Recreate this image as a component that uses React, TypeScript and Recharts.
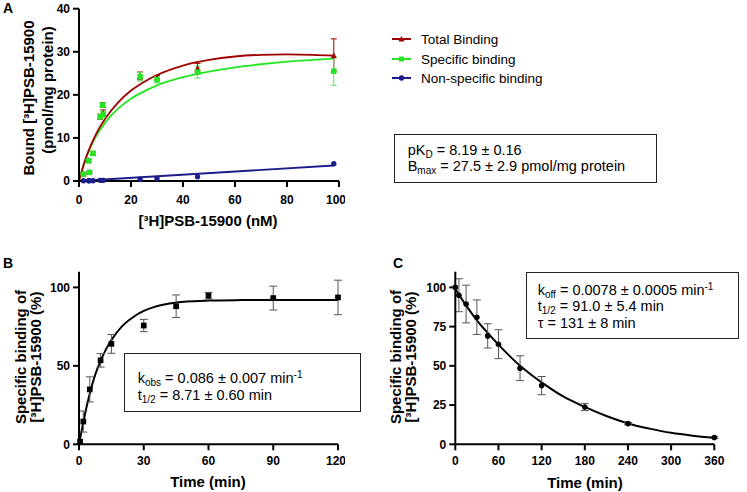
import React from "react";
import { ComposedChart, Line, Scatter, XAxis, YAxis, ErrorBar } from "recharts";

const FONT = '"Liberation Sans", Arial, sans-serif';

// Panel A: saturation
const satX = [1.7, 3.7, 4.0, 5.4, 8.1, 9.1, 9.3, 23.5, 30, 45.6, 98];
const totalY = [1.7, 4.8, 2.1, 6.5, 15.0, 17.7, 15.8, 24.4, 24.0, 26.3, 29.2];
const totalErr = [0.2, 0.3, 0.2, 0.3, 0.5, 0.5, 0.7, 0.9, 0.5, 1.0, 3.8];
const specY = [1.6, 4.7, 2.0, 6.4, 14.9, 17.6, 15.5, 24.2, 23.5, 25.3, 25.5];
const specErr = [0.2, 0.3, 0.2, 0.3, 0.5, 0.5, 0.7, 1.0, 0.7, 1.4, 3.3];
const nsY = [0.05, 0.05, 0.05, 0.05, 0.15, 0.15, 0.15, 0.4, 0.6, 1.0, 4.0];

const fitAx = [0, 2, 4, 6, 8, 10, 15, 20, 25, 30, 40, 50, 60, 70, 80, 90, 98];
const totalFit = [0, 4.2, 7.5, 10.2, 12.5, 14.4, 18.2, 21.0, 23.0, 24.6, 26.8, 28.1, 28.9, 29.3, 29.4, 29.3, 29.1];
const specFit = [0, 4.1, 7.2, 9.8, 11.8, 13.5, 16.8, 19.1, 20.8, 22.2, 24.1, 25.4, 26.4, 27.1, 27.7, 28.1, 28.4];
const nsFitX = [0, 98];
const nsFit = [0, 3.6];

// Panel B: association
const bX = [0.5, 2, 5, 10, 15, 30, 45, 60, 90, 120];
const bY = [1.7, 14.5, 35, 53.5, 64, 75.7, 88, 94.7, 93.2, 93.6];
const bErr = [0, 6.7, 8, 4.3, 6, 3.9, 7.2, 2.1, 7.6, 11];
const bFitX = [0, 2.5, 5, 7.5, 10, 12.5, 15, 20, 25, 30, 35, 40, 45, 50, 60, 75, 90, 105, 120];
const bFit = [0, 17.4, 32.3, 44.3, 53.2, 60.5, 66.4, 75.3, 81.0, 85.0, 87.6, 89.3, 90.3, 91.0, 91.6, 91.9, 92.0, 92.0, 92.0];

// Panel C: dissociation
const cX = [0, 5, 15, 30, 45, 60, 90, 120, 180, 240, 360];
const cY = [100, 95, 89.4, 81, 69.1, 63.8, 48.5, 37.4, 23.8, 13.2, 4.3];
const cErr = [0, 10.5, 12, 11, 7.7, 9.2, 7.9, 5.8, 2.3, 0.8, 0.5];
const cFitX = [0, 15, 30, 45, 60, 75, 90, 105, 120, 150, 180, 210, 240, 270, 300, 330, 360];
const cFit = [99, 88.5, 79, 71, 63.5, 56.5, 50, 44.5, 39.5, 30.5, 23.8, 18, 13.3, 10, 7.3, 5.5, 4.2];

const ticksA_X = [0, 20, 40, 60, 80, 100];
const ticksA_Y = [0, 10, 20, 30, 40];
const ticksB_X = [0, 30, 60, 90, 120];
const ticksB_Y = [0, 50, 100];
const ticksC_X = [0, 60, 120, 180, 240, 300, 360];
const ticksC_Y = [0, 25, 50, 75, 100];

const RED = "#a00000";
const GREEN = "#22e622";
const BLUE = "#1c1c8c";

const zip = (xs: number[], ys: number[], es?: number[]) =>
  xs.map((x, i) => ({ x, y: ys[i], err: es ? es[i] : 0 }));

const axisLine = { stroke: "#000", strokeWidth: 2 };
const tick = { fontSize: 12, fontWeight: 700, fill: "#000", fontFamily: FONT };

const square = (s: number, fill: string) => (p: any) =>
  <rect x={p.cx - s / 2} y={p.cy - s / 2} width={s} height={s} fill={fill} />;
const circle = (r: number, fill: string) => (p: any) =>
  <circle cx={p.cx} cy={p.cy} r={r} fill={fill} />;
const triangle = (s: number, fill: string) => (p: any) =>
  <polygon
    points={`${p.cx},${p.cy - s / 2} ${p.cx - s / 2},${p.cy + s / 2} ${p.cx + s / 2},${p.cy + s / 2}`}
    fill={fill}
  />;

function Title({ x, y, text, rotate = false }: { x: number; y: number; text: string; rotate?: boolean }) {
  return (
    <div
      style={{
        position: "absolute",
        left: x,
        top: y,
        transform: `translate(-50%,-50%)${rotate ? " rotate(-90deg)" : ""}`,
        whiteSpace: "nowrap",
        fontSize: 15,
        fontWeight: 700,
        lineHeight: 1,
      }}
    >
      {text}
    </div>
  );
}

const Sub = ({ children }: { children: React.ReactNode }) => (
  <span style={{ fontSize: 10, verticalAlign: "-3px", lineHeight: 0 }}>{children}</span>
);
const Sup = ({ children }: { children: React.ReactNode }) => (
  <span style={{ fontSize: 10, verticalAlign: "5px", lineHeight: 0 }}>{children}</span>
);

function Box({ left, top, width, height, padTop, padLeft, children }: any) {
  return (
    <div
      style={{
        position: "absolute",
        left,
        top,
        width,
        height,
        boxSizing: "border-box",
        border: "1px solid #222",
        paddingTop: padTop,
        paddingLeft: padLeft,
        fontSize: 14.5,
        lineHeight: "16.7px",
        whiteSpace: "nowrap",
        background: "#fff",
      }}
    >
      {children}
    </div>
  );
}

function LegendRow({ y, color, marker, label }: { y: number; color: string; marker: string; label: string }) {
  return (
    <div style={{ position: "absolute", left: 392, top: y - 10, height: 20, display: "flex", alignItems: "center" }}>
      <svg width={19} height={10}>
        <line x1={0} y1={5} x2={19} y2={5} stroke={color} strokeWidth={2} />
        {marker === "tri" && <polygon points="9.5,2 6.5,7.5 12.5,7.5" fill={color} />}
        {marker === "sq" && <rect x={7} y={2.5} width={5} height={5} fill={color} />}
        {marker === "circ" && <circle cx={9.5} cy={5} r={2.7} fill={color} />}
      </svg>
      <span style={{ marginLeft: 10, fontSize: 13.5 }}>{label}</span>
    </div>
  );
}

const Letter = ({ x, y, t }: { x: number; y: number; t: string }) => (
  <div style={{ position: "absolute", left: x, top: y, fontSize: 14, fontWeight: 700, lineHeight: "14px" }}>{t}</div>
);

export default function App() {
  return (
    <div style={{ position: "relative", width: 747, height: 492, background: "#fff", fontFamily: FONT, color: "#000" }}>
      <style>{`body{margin:0}`}</style>

      {/* Panel A */}
      <div style={{ position: "absolute", left: 0, top: 0 }}>
        <ComposedChart width={345} height={235} margin={{ top: 8.7, right: 6, bottom: 24, left: 0 }}>
          <XAxis type="number" dataKey="x" domain={[0, 100]} ticks={ticksA_X} tick={tick}
            axisLine={axisLine} tickLine={axisLine} tickSize={6} tickMargin={8} height={30} />
          <YAxis type="number" dataKey="y" domain={[0, 40]} ticks={ticksA_Y} tick={tick}
            axisLine={axisLine} tickLine={axisLine} tickSize={6} tickMargin={3} width={79} />
          <Line data={zip(fitAx, specFit)} dataKey="y" type="monotone" stroke={GREEN} strokeWidth={1.8}
            dot={false} activeDot={false} isAnimationActive={false} />
          <Line data={zip(fitAx, totalFit)} dataKey="y" type="monotone" stroke={RED} strokeWidth={1.8}
            dot={false} activeDot={false} isAnimationActive={false} />
          <Line data={zip(nsFitX, nsFit)} dataKey="y" type="linear" stroke={BLUE} strokeWidth={1.8}
            dot={false} activeDot={false} isAnimationActive={false} />
          <Scatter data={zip(satX, totalY, totalErr)} dataKey="y" shape={triangle(6, RED)} isAnimationActive={false}>
            <ErrorBar dataKey="err" direction="y" width={3} stroke={RED} strokeWidth={1} isAnimationActive={false} />
          </Scatter>
          <Scatter data={zip(satX, specY, specErr)} dataKey="y" shape={square(5.5, GREEN)} isAnimationActive={false}>
            <ErrorBar dataKey="err" direction="y" width={3} stroke="#66e066" strokeWidth={1} isAnimationActive={false} />
          </Scatter>
          <Scatter data={zip(satX, nsY)} dataKey="y" shape={circle(2.7, BLUE)} isAnimationActive={false} />
        </ComposedChart>
      </div>

      {/* Panel B */}
      <div style={{ position: "absolute", left: 0, top: 240 }}>
        <ComposedChart width={345} height={252} margin={{ top: 31.7, right: 7, bottom: 17.7, left: 0 }}>
          <XAxis type="number" dataKey="x" domain={[0, 120]} ticks={ticksB_X} tick={tick}
            axisLine={axisLine} tickLine={axisLine} tickSize={6} tickMargin={6} height={30} />
          <YAxis type="number" dataKey="y" domain={[0, 110]} ticks={ticksB_Y} tick={tick}
            axisLine={axisLine} tickLine={axisLine} tickSize={6} tickMargin={3} width={79} />
          <Line data={zip(bFitX, bFit)} dataKey="y" type="monotone" stroke="#000" strokeWidth={2}
            dot={false} activeDot={false} isAnimationActive={false} />
          <Scatter data={zip(bX, bY, bErr)} dataKey="y" shape={square(5.7, "#000")} isAnimationActive={false}>
            <ErrorBar dataKey="err" direction="y" width={4} stroke="#555" strokeWidth={1} isAnimationActive={false} />
          </Scatter>
        </ComposedChart>
      </div>

      {/* Panel C */}
      <div style={{ position: "absolute", left: 370, top: 240 }}>
        <ComposedChart width={377} height={252} margin={{ top: 31.7, right: 32.7, bottom: 17.7, left: 0 }}>
          <XAxis type="number" dataKey="x" domain={[0, 360]} ticks={ticksC_X} tick={tick}
            axisLine={axisLine} tickLine={axisLine} tickSize={6} tickMargin={6} height={30} />
          <YAxis type="number" dataKey="y" domain={[0, 110]} ticks={ticksC_Y} tick={tick}
            axisLine={axisLine} tickLine={axisLine} tickSize={6} tickMargin={3} width={85.3} />
          <Line data={zip(cFitX, cFit)} dataKey="y" type="monotone" stroke="#000" strokeWidth={2}
            dot={false} activeDot={false} isAnimationActive={false} />
          <Scatter data={zip(cX, cY, cErr)} dataKey="y" shape={circle(2.8, "#000")} isAnimationActive={false}>
            <ErrorBar dataKey="err" direction="y" width={4} stroke="#555" strokeWidth={1} isAnimationActive={false} />
          </Scatter>
        </ComposedChart>
      </div>

      {/* Titles */}
      <Title x={28} y={98} text="Bound [³H]PSB-15900" rotate />
      <Title x={47} y={90} text="(pmol/mg protein)" rotate />
      <Title x={208} y={220} text="[³H]PSB-15900 (nM)" />
      <Title x={19.5} y={357} text="Specific binding of" rotate />
      <Title x={35} y={357} text="[³H]PSB-15900 (%)" rotate />
      <Title x={208} y={481} text="Time (min)" />
      <Title x={394.5} y={357} text="Specific binding of" rotate />
      <Title x={410} y={357} text="[³H]PSB-15900 (%)" rotate />
      <Title x={585} y={482} text="Time (min)" />

      <Letter x={3} y={1.4} t="A" />
      <Letter x={3} y={256.4} t="B" />
      <Letter x={393} y={256.4} t="C" />

      <LegendRow y={39.3} color={RED} marker="tri" label="Total Binding" />
      <LegendRow y={59.3} color={GREEN} marker="sq" label="Specific binding" />
      <LegendRow y={78.3} color={BLUE} marker="circ" label="Non-specific binding" />

      <Box left={394} top={134} width={263} height={49} padTop={6.6} padLeft={12.7}>
        <div>pK<Sub>D</Sub> = 8.19 ± 0.16</div>
        <div>B<Sub>max</Sub> = 27.5 ± 2.9 pmol/mg protein</div>
      </Box>
      <Box left={124} top={353.3} width={237} height={58.4} padTop={15.6} padLeft={12.7}>
        <div>k<Sub>obs</Sub> = 0.086 ± 0.007 min<Sup>-1</Sup></div>
        <div>t<Sub>1/2</Sub> = 8.71 ± 0.60 min</div>
      </Box>
      <Box left={525.7} top={272.3} width={213.3} height={66.7} padTop={8.3} padLeft={11}>
        <div>k<Sub>off</Sub> = 0.0078 ± 0.0005 min<Sup>-1</Sup></div>
        <div>t<Sub>1/2</Sub> = 91.0 ± 5.4 min</div>
        <div>τ = 131 ± 8 min</div>
      </Box>
    </div>
  );
}
